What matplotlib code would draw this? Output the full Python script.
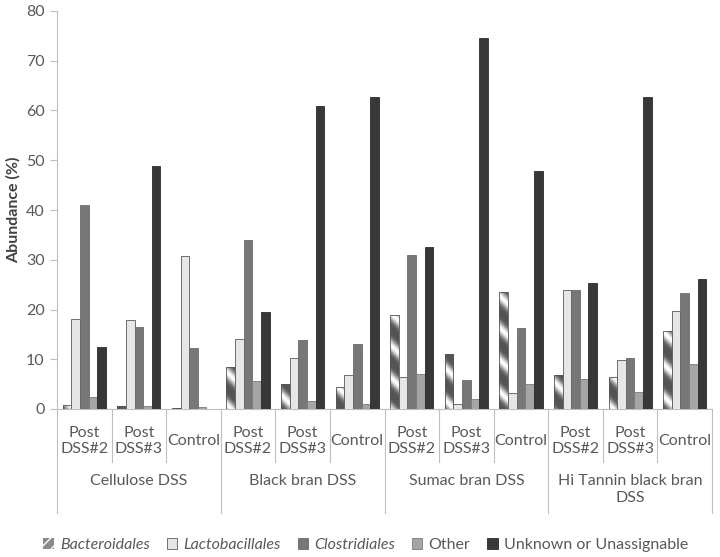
import numpy as np
import matplotlib
matplotlib.use("Agg")
import matplotlib.pyplot as plt
import matplotlib.transforms as mtransforms
from matplotlib.patches import Patch

# ---------------- data ----------------
groups = ["Cellulose DSS", "Black bran DSS", "Sumac bran DSS", "Hi Tannin black bran\nDSS"]
subgroups = ["Post\nDSS#2", "Post\nDSS#3", "Control"]
series = ["Bacteroidales", "Lactobacillales", "Clostridiales", "Other", "Unknown or Unassignable"]

bacteroidales   = [0.9, 0.6, 0.3, 8.5, 5.0, 4.5, 18.9, 11.0, 23.5, 6.8, 6.5, 15.6]
lactobacillales = [18.1, 17.9, 30.8, 14.1, 10.2, 6.8, 6.5, 1.0, 3.2, 23.9, 9.8, 19.6]
clostridiales   = [41.0, 16.4, 12.2, 34.0, 13.9, 13.0, 30.9, 5.8, 16.3, 23.9, 10.2, 23.4]
other           = [2.5, 0.6, 0.4, 5.6, 1.6, 1.0, 7.0, 2.1, 5.0, 6.0, 3.4, 9.0]
unknown         = [12.4, 48.9, 0.0, 19.4, 61.0, 62.7, 32.5, 74.6, 47.9, 25.4, 62.7, 26.1]

values = [bacteroidales, lactobacillales, clostridiales, other, unknown]
face_colors = [None, "#e6e6e6", "#777777", "#a5a5a5", "#383838"]
edge_colors = ["#555555", "#5a5a5a", "#6a6a6a", "#7a7a7a", "#2a2a2a"]

FONT = ["Lato", "DejaVu Sans"]
plt.rcParams["font.family"] = FONT
TXT = "#595959"
AX = "#bfbfbf"

fig = plt.figure(figsize=(7.2, 5.57), dpi=100)
ax = fig.add_axes([57 / 720, (557 - 409) / 557, (712 - 57) / 720, 398 / 557])

n = len(bacteroidales)
x = np.arange(n) + 0.5
w = 0.158
bar_sets = []
for j, vals in enumerate(values):
    fc = face_colors[j] if face_colors[j] else "none"
    bars = ax.bar(x + (j - 2) * w, vals, width=w, color=fc,
                  edgecolor=edge_colors[j], linewidth=0.6, zorder=3)
    bar_sets.append(bars)

# striped gradient fill for Bacteroidales bars
H, W = 400, 660
yy, xx = np.mgrid[0:H, 0:W]
phase = (xx - yy) / 32.0
val = 0.5 + 0.5 * np.cos(2 * np.pi * phase)
img = 0.33 + 0.67 * val ** 2.2
for b in bar_sets[0]:
    im = ax.imshow(img, cmap="gray", vmin=0, vmax=1, extent=(0, 12, 0, 80),
                   aspect="auto", origin="upper", zorder=2.5, interpolation="bilinear")
    im.set_clip_path(b)
ax.set_xlim(0, 12)
ax.set_ylim(0, 80)

# axes styling
for s in ["top", "right"]:
    ax.spines[s].set_visible(False)
ax.spines["left"].set_color(AX)
ax.spines["bottom"].set_color(AX)
ax.set_yticks(np.arange(0, 81, 10))
ax.tick_params(axis="y", colors=AX, labelcolor=TXT, labelsize=11.5, length=5, width=0.8, pad=4)
ax.set_xticks([])
ax.set_ylabel("Abundance (%)", fontsize=11.5, fontweight="bold", color="#404040")
ax.yaxis.label.set_va("center")
ax.yaxis.set_label_coords(-44 / 655, 0.5)

# multi-level category axis
trans = mtransforms.blended_transform_factory(ax.transData, ax.transAxes)
AH = 398.0
for i in range(n + 1):
    depth = 104 if i % 3 == 0 else 53
    ax.plot([i, i], [0, -depth / AH], transform=trans, color=AX, lw=0.8, clip_on=False)
for i in range(n):
    ax.text(i + 0.5, -32 / AH, subgroups[i % 3], transform=trans, ha="center", va="center",
            fontsize=11.5, color=TXT, linespacing=1.25)
for g, name in enumerate(groups):
    ax.text(g * 3 + 1.5, -65 / AH, name, transform=trans, ha="center", va="top",
            fontsize=11.5, color=TXT, linespacing=1.25)

# legend
handles = [
    Patch(facecolor="#8a8a8a", edgecolor="white", hatch="///", linewidth=0),
    Patch(facecolor=face_colors[1], edgecolor=edge_colors[1], linewidth=0.6),
    Patch(facecolor=face_colors[2], edgecolor=edge_colors[2], linewidth=0.6),
    Patch(facecolor=face_colors[3], edgecolor=edge_colors[3], linewidth=0.6),
    Patch(facecolor=face_colors[4], edgecolor=edge_colors[4], linewidth=0.6),
]
leg = fig.legend(handles, series, loc="center", bbox_to_anchor=(0.508, 0.021), ncol=5,
                 frameon=False, fontsize=11.5, handlelength=0.65, handleheight=0.65,
                 handletextpad=0.4, columnspacing=1.05)
for k, t in enumerate(leg.get_texts()):
    t.set_color(TXT)
    if k < 3:
        t.set_fontstyle("italic")

fig.savefig("out.png", dpi=100)
